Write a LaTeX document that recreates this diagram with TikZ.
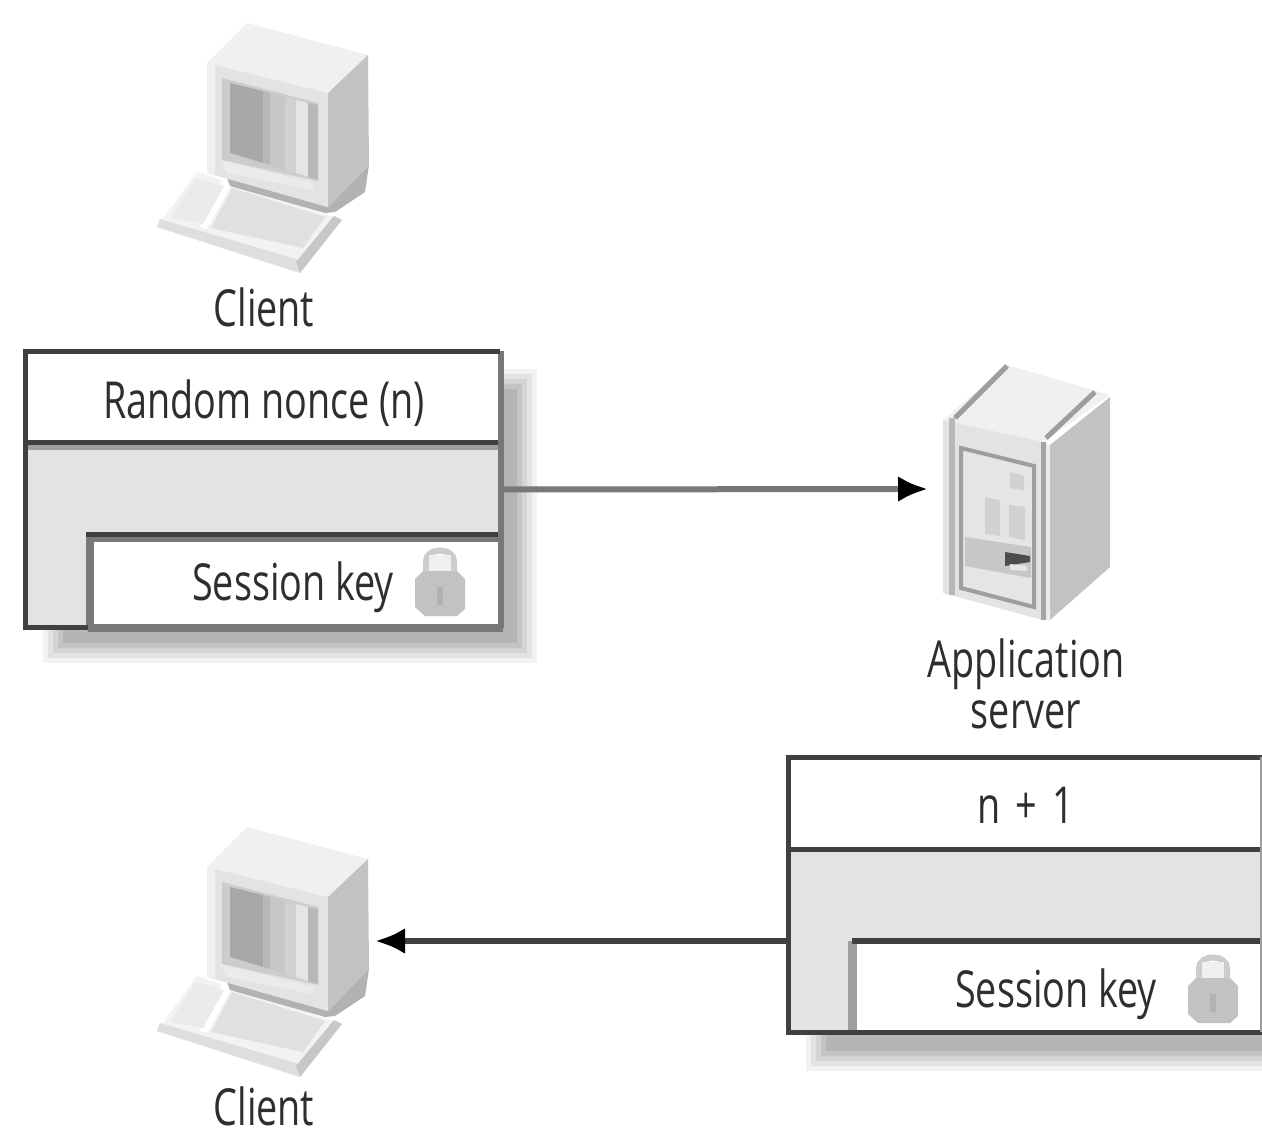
\documentclass[tikz,border=0pt]{standalone}
\usepackage{fontspec}
\setmainfont[FakeStretch=0.74]{Open Sans}
\usetikzlibrary{arrows.meta}
\definecolor{boxgray}{gray}{0.89}
\definecolor{edgedark}{gray}{0.25}
\definecolor{edgemid}{gray}{0.47}
\definecolor{edgesoft}{gray}{0.62}
\tikzset{
  panel/.style={fill=#1,inner sep=0pt,outer sep=0pt},
  darkline/.style={edgedark,line width=5pt},
  midline/.style={edgemid,line width=6pt},
  softline/.style={edgesoft,line width=5pt},
  label/.style={text=black!82,font=\fontsize{51}{56}\selectfont,align=center,inner sep=0pt},
  conn/.style={line width=6pt},
  connhead/.style={-{Latex[length=30pt,width=26pt,black]}},
  anchorbox/.style={inner sep=0pt,minimum width=1pt,minimum height=30pt}
}
\newcommand{\dropshadow}[4]{%
  \fill[black!5] (#1,#2) rectangle (#3,#4);
  \fill[black!11] (#1+5,#2+5) rectangle (#3-5,#4-5);
  \fill[black!17] (#1+10,#2+10) rectangle (#3-10,#4-10);
  \fill[black!23] (#1+15,#2+15) rectangle (#3-15,#4-15);
  \fill[black!29] (#1+20,#2+20) rectangle (#3-20,#4-20);
}
\newcommand{\padlock}[2]{%
  \begin{scope}[shift={(#1,#2)}]
    \draw[black!20,line width=6pt] (11,26) -- (11,14) .. controls (11,0) and (39,0) .. (39,14) -- (39,26);
    \fill[black!6] (14,8) rectangle (36,24);
    \fill[black!24] (0,32) -- (8,24) -- (42,24) -- (50,32) -- (50,62) -- (42,69) -- (10,69) -- (0,60) -- cycle;
    \fill[black!30] (22,40) rectangle (28,58);
  \end{scope}}
\newcommand{\workstation}[1]{%
  \begin{scope}[shift={(0,#1)}]
    % keyboard
    \fill[black!5] (197,172) -- (157,227) -- (300,273) -- (342,220) -- cycle;
    \fill[black!13] (157,227) -- (300,273) -- (306,262) -- (160,219) -- cycle;
    \fill[black!22] (300,273) -- (342,220) -- (334,216) -- (296,262) -- cycle;
    \fill[white] (222,180) -- (200,227) -- (207,229) -- (231,186) -- (328,214) -- (326,208) -- cycle;
    \fill[black!12] (232,188) -- (211,228) -- (303,248) -- (325,217) -- cycle;
    \fill[black!8] (196,178) -- (170,218) -- (203,224) -- (224,186) -- cycle;
    % strip under the monitor
    \fill[black!30] (227,178) -- (328,207) -- (369,165) -- (365,192) -- (335,212) -- (325,213) -- (230,186) -- cycle;
    % monitor
    \fill[black!6] (247,23) -- (207,63) -- (328,93) -- (368,55) -- cycle;
    \fill[black!11] (207,63) -- (328,93) -- (328,207) -- (207,173) -- cycle;
    \fill[black!24] (328,93) -- (368,55) -- (369,165) -- (328,207) -- cycle;
    \fill[black!6] (207,63) -- (215,65) -- (215,176) -- (207,173) -- cycle;
    % screen
    \fill[black!20] (222,78) -- (318,103) -- (318,181) -- (222,160) -- cycle;
    \fill[black!34] (230,83) -- (263,91) -- (263,163) -- (230,153) -- cycle;
    \fill[black!28] (263,91) -- (270,93) -- (270,165) -- (263,163) -- cycle;
    \fill[black!22] (270,93) -- (285,97) -- (285,170) -- (270,165) -- cycle;
    \fill[black!18] (285,97) -- (296,100) -- (296,173) -- (285,170) -- cycle;
    \fill[black!10] (296,100) -- (308,103) -- (308,177) -- (296,173) -- cycle;
    \fill[black!28] (308,103) -- (318,105) -- (318,180) -- (308,177) -- cycle;
    \fill[black!8] (220,160) -- (260,170) -- (313,183) -- (313,190) -- (227,173) -- cycle;
  \end{scope}}
\begin{document}
\begin{tikzpicture}[x=1pt,y=-1pt]
  \useasboundingbox (0,0) rectangle (1262,1132);
  \fill[white] (0,0) rectangle (1262,1132);

  % ---------- shadows ----------
  \dropshadow{43}{369}{537}{663}
  \dropshadow{806}{775}{1300}{1071}

  % ---------- client icons ----------
  \workstation{0}
  \workstation{804}

  % ---------- server icon ----------
  \fill[black!6] (1007,365) -- (943,420) -- (1043,442) -- (1110,395) -- cycle;
  \draw[black!38,line width=5pt] (1007,366) -- (955,418);
  \draw[black!38,line width=5pt] (1095,392) -- (1046,438);
  \fill[black!11] (943,420) -- (1043,442) -- (1043,620) -- (943,593) -- cycle;
  \fill[black!24] (1050,445) -- (1110,397) -- (1110,567) -- (1050,620) -- cycle;
  \fill[black!8] (1043,442) -- (1050,445) -- (1050,620) -- (1043,620) -- cycle;
  \draw[black!36,line width=5pt] (1043,442) -- (1043,620);
  \draw[black!28,line width=6pt] (952,418) -- (952,595);
  \fill[black!10] (960,447) -- (1035,466) -- (1035,610) -- (960,589) -- cycle;
  \draw[black!38,line width=4pt] (961,448) -- (1034,466) -- (1034,607) -- (961,588) -- cycle;
  \fill[black!22] (965,537) -- (1031,547) -- (1031,578) -- (965,566) -- cycle;
  \fill[black!18] (985,497) -- (1000,500) -- (1000,536) -- (985,534) -- cycle;
  \fill[black!18] (1009,505) -- (1025,507) -- (1025,540) -- (1009,537) -- cycle;
  \fill[black!18] (1010,472) -- (1024,476) -- (1024,490) -- (1010,488) -- cycle;
  \fill[black!70] (1005,552) -- (1030,556) -- (1030,562) -- (1005,566) -- cycle;
  \fill[white!90!black] (1010,564) -- (1027,566) -- (1027,571) -- (1010,570) -- cycle;

  % ---------- first message ----------
  \node[panel=boxgray,minimum width=475pt,minimum height=277pt] (boxa) at (263,489.5) {};
  \node[panel=white,minimum width=475pt,minimum height=92pt] (heada) at (263,397) {};
  \node[panel=white,minimum width=409pt,minimum height=91pt] (keya) at (296,582) {};
  \draw[edgesoft,line width=5pt] (26,447.5) -- (500,447.5);
  \draw[darkline] (26,442.5) -- (500,442.5);
  \draw[midline] (90,539) -- (500,539);
  \draw[edgemid,line width=8pt] (90,534) -- (90,628);
  \draw[darkline] (86,534.5) -- (500,534.5);
  \draw[midline] (boxa.north east) -- (boxa.south east);
  \draw[midline,line width=8pt] (88,628) -- (503,628);
  \draw[darkline] (25.5,627.5) -- (88,627.5);
  \draw[darkline] (25.5,630) -- (25.5,351.5) -- (500,351.5);
  \node[label] (noncea) at (264,403) {Random nonce (n)};
  \node[label,anchor=east] (sessa) at (394,587) {Session key};
  \padlock{415}{547}

  % ---------- second message ----------
  \node[panel=boxgray,minimum width=475pt,minimum height=275pt] (boxb) at (1026,895) {};
  \node[panel=white,minimum width=475pt,minimum height=92pt] (headb) at (1026,804) {};
  \node[panel=white,minimum width=409pt,minimum height=91pt] (keyb) at (1059,987) {};
  \draw[darkline] (788.5,849.5) -- (1262,849.5);
  \draw[softline,line width=9pt] (852,941) -- (852,1032);
  \draw[darkline,line width=6pt] (852,941) -- (1262,941);
  \draw[darkline] (788.5,1032.5) -- (1262,1032.5);
  \draw[darkline] (1262,757.5) -- (788.5,757.5) -- (788.5,1035);
  \draw[softline,line width=3pt] (1261,757) -- (1261,1032);
  \node[label] (nplus) at (1026,805) {n\hspace{0.1em} + \hspace{0.1em}1};
  \node[label,anchor=east] (sessb) at (1157,994) {Session key};
  \padlock{1188}{954}

  % ---------- labels ----------
  \node[label] (clienta) at (264,307) {Client};
  \node[label] (clientb) at (264,1106) {Client};
  \node[label] (srvlabel) at (1026,684) {Application\\[-5pt]server};

  % ---------- connector ends ----------
  \node[anchorbox,anchor=west] (srvend) at (928,489) {};
  \node[anchorbox,anchor=east] (cliend) at (375,941) {};
  \draw[conn,edgemid,connhead] (boxa.east) -- (srvend.west);
  \draw[conn,edgedark,connhead] (boxb.west |- cliend) -- (cliend.east);
\end{tikzpicture}
\end{document}
